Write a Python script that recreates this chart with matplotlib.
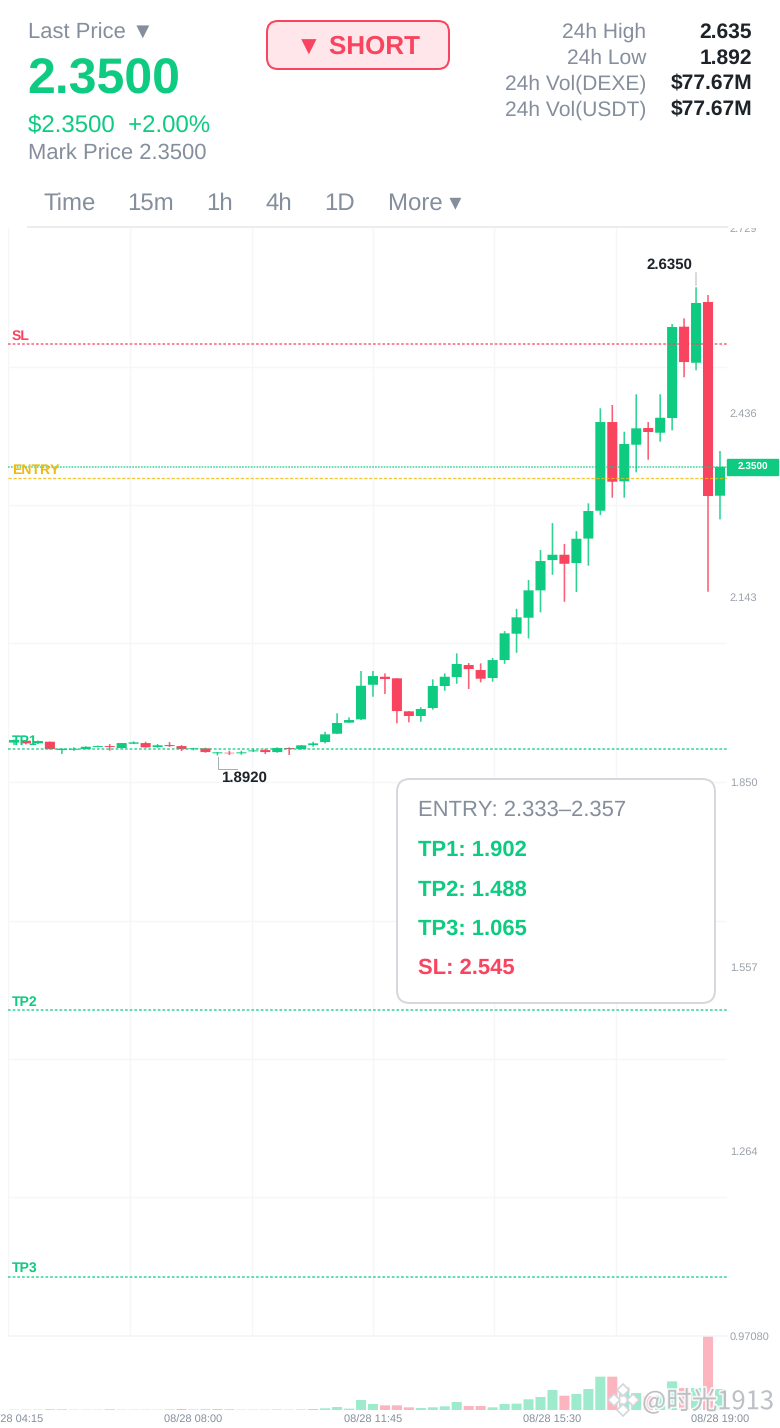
"""Recreates the DEXE/USDT 15m candlestick card with its trade levels."""
import matplotlib
matplotlib.use("Agg")
import matplotlib.patheffects as pe
import matplotlib.pyplot as plt
from matplotlib.patches import FancyBboxPatch, Rectangle

plt.rcParams["font.family"] = ["Liberation Sans", "DejaVu Sans"]
plt.rcParams["text.hinting"] = "no_hinting"
plt.rcParams["text.hinting_factor"] = 1

GREEN = "#0ECB81"
RED = "#F9445F"
GRAY = "#848E9C"
DARK = "#1E2329"
YELLOW = "#F0B90B"
PX = 0.72  # 1 px in points at dpi 100

# 15 minute candles, 08/28 04:15 -> 19:00
opens = [1.9125, 1.9154, 1.9112, 1.9138, 1.9006, 1.9011, 1.9022, 1.9054, 1.9069, 1.9038,
         1.9106, 1.9117, 1.9054, 1.9085, 1.9069, 1.9022, 1.9033, 1.8954, 1.8963, 1.8954,
         1.8985, 1.9006, 1.8974, 1.9038, 1.9022, 1.9085, 1.9133, 1.9265, 1.9441, 1.9493,
         2.0042, 2.0169, 2.0144, 1.9620, 1.9546, 1.9673, 2.0022, 2.0165, 2.0355, 2.0276,
         2.0149, 2.0434, 2.0852, 2.1106, 2.1540, 2.2021, 2.2105, 2.1974, 2.2362, 2.2804,
         2.4211, 2.3270, 2.3851, 2.4116, 2.4041, 2.4275, 2.5724, 2.5152, 2.6116, 2.3042]
closes = [1.9165, 1.9112, 1.9149, 1.9022, 1.9027, 1.9027, 1.9058, 1.9069, 1.9054, 1.9117,
          1.9128, 1.9049, 1.9081, 1.9069, 1.9022, 1.9033, 1.8974, 1.8970, 1.8954, 1.8970,
          1.9001, 1.8974, 1.9038, 1.9022, 1.9081, 1.9112, 1.9255, 1.9435, 1.9482, 2.0026,
          2.0180, 2.0133, 1.9625, 1.9546, 1.9657, 2.0022, 2.0169, 2.0371, 2.0291, 2.0138,
          2.0434, 2.0858, 2.1112, 2.1540, 2.2005, 2.2105, 2.1962, 2.2359, 2.2799, 2.4211,
          2.3264, 2.3862, 2.4111, 2.4053, 2.4279, 2.5719, 2.5163, 2.6100, 2.3037, 2.3500]
highs = [1.9173, 1.9165, 1.9157, 1.9141, 1.9027, 1.9049, 1.9065, 1.9077, 1.9101, 1.9117,
         1.9144, 1.9138, 1.9101, 1.9133, 1.9085, 1.9043, 1.9043, 1.8974, 1.8995, 1.8995,
         1.9027, 1.9027, 1.9049, 1.9049, 1.9085, 1.9138, 1.9296, 1.9590, 1.9525, 2.0260,
         2.0260, 2.0223, 2.0149, 1.9625, 1.9684, 2.0128, 2.0223, 2.0541, 2.0387, 2.0382,
         2.0466, 2.0894, 2.1248, 2.1704, 2.2180, 2.2608, 2.2275, 2.2481, 2.2921, 2.4429,
         2.4481, 2.4057, 2.4651, 2.4211, 2.4651, 2.5766, 2.5857, 2.6350, 2.6227, 2.3751]
lows = [1.9085, 1.9096, 1.9101, 1.9014, 1.8943, 1.8995, 1.9017, 1.9049, 1.8995, 1.9033,
        1.9101, 1.9043, 1.9043, 1.9054, 1.8990, 1.9001, 1.8963, 1.8920, 1.8927, 1.8931,
        1.8974, 1.8943, 1.8963, 1.8927, 1.9011, 1.9058, 1.9112, 1.9260, 1.9435, 1.9482,
        1.9852, 1.9895, 1.9430, 1.9446, 1.9455, 1.9646, 1.9947, 2.0058, 1.9974, 2.0080,
        2.0090, 2.0375, 2.0550, 2.0778, 2.1191, 2.1788, 2.1359, 2.1513, 2.1931, 2.2735,
        2.3010, 2.3010, 2.3413, 2.3613, 2.3899, 2.4079, 2.4921, 2.5032, 2.1518, 2.2667]
volumes = [1, 1, 1, 2, 2, 1, 1, 1, 2, 1, 1, 1, 1, 1.5, 3, 1.5, 2, 3, 2, 1,
           1, 1, 1.5, 1, 1.5, 3, 5, 9, 4, 30, 18, 14, 14, 8, 6, 8, 11, 24, 12, 12,
           8, 18, 19, 32, 39, 60, 43, 48, 63, 100, 100, 68, 51, 42, 44, 86, 66, 66, 222, 63]

time_ticks = [0, 15, 30, 45, 59]
time_labels = ["08/28 04:15", "08/28 08:00", "08/28 11:45", "08/28 15:30", "08/28 19:00"]
price_ticks = [2.729, 2.436, 2.143, 1.850, 1.557, 1.264, 0.9708]
price_labels = ["2.729", "2.436", "2.143", "1.850", "1.557", "1.264", "0.97080"]
grid_prices = [0.9708, 1.1906, 1.4103, 1.6301, 1.8499, 2.0697, 2.2895, 2.5092, 2.729]
grid_times = [-0.5, 9.69, 19.86, 30.03, 40.14, 50.33]

last_price = 2.35
level_names = ["SL", "TP1", "TP2", "TP3"]
level_prices = [2.545, 1.902, 1.488, 1.065]
level_colors = [RED, GREEN, GREEN, GREEN]
entry_low = 2.333

stat_names = ["24h High", "24h Low", "24h Vol(DEXE)", "24h Vol(USDT)"]
stat_values = ["2.635", "1.892", "$77.67M", "$77.67M"]
tab_names = ["Time", "15m", "1h", "4h", "1D", "More ▾"]
tab_x = [44, 128, 207, 266, 325, 388]

fig = plt.figure(figsize=(7.8, 14.28), dpi=100)
W, H = 780, 1428


def px_axes(left, top, right, bottom):
    return fig.add_axes([left / W, (H - bottom) / H, (right - left) / W, (bottom - top) / H])


ax = px_axes(8, 228, 727, 1336)
ax_vol = px_axes(8, 1336, 727, 1410)
xlim = (-0.5014, 59.586)
xs = range(len(opens))
up = [c >= o for o, c in zip(opens, closes)]
colors = [GREEN if u else RED for u in up]

# candles
wicks = ax.vlines(xs, lows, highs, colors=colors, linewidth=1.6 * PX, alpha=0.85, zorder=3)
wicks.set_snap(False)
bodies = ax.bar(xs, [abs(c - o) for o, c in zip(opens, closes)], bottom=[min(o, c) for o, c in zip(opens, closes)],
                width=0.84, color=colors, zorder=4)
for body in bodies:
    body.set_snap(False)

# trade levels
for name, price, color in zip(level_names, level_prices, level_colors):
    ax.axhline(price, color=color, alpha=0.7, linewidth=1.8 * PX, dashes=(1.5, 1.1), zorder=5)
    ax.annotate(name, (0, price), xycoords=("axes fraction", "data"), xytext=(4 * PX, 1.5 * PX),
                textcoords="offset points", color=color, fontsize=10.2, fontweight="bold", va="bottom", zorder=6)
ax.axhline(last_price, color=GREEN, alpha=0.7, linewidth=1.7 * PX, dashes=(1.0, 0.7), zorder=5)
ax.axhline(entry_low, color=YELLOW, alpha=0.8, linewidth=1.3 * PX, dashes=(2.5, 1.3), zorder=5)
ax.annotate("ENTRY", (0, entry_low), xycoords=("axes fraction", "data"), xytext=(4 * PX, 0.5 * PX),
            textcoords="offset points", color=YELLOW, fontsize=9.8, fontweight="bold", va="bottom", zorder=6)

ax.set_xlim(xlim)
ax.set_ylim(price_ticks[-1], price_ticks[0])
ax.set_yticks(price_ticks, price_labels)
ax.yaxis.tick_right()
ax.set_yticks(grid_prices, minor=True)
ax.set_xticks(grid_times, minor=True)
ax.set_xticks([])
ax.tick_params(which="both", length=0)
ax.tick_params(axis="y", labelsize=7.6, labelcolor="#9BA1AB", pad=2)
ax.grid(which="minor", color="#F5F6F7", linewidth=1.3 * PX, zorder=0)
for spine in ax.spines.values():
    spine.set_visible(False)
ax.patch.set_alpha(0)

# volume
vol_bars = ax_vol.bar(xs, volumes, width=0.84, color=colors, alpha=0.4)
for bar in vol_bars:
    bar.set_snap(False)
ax_vol.set_xlim(xlim)
ax_vol.set_ylim(0, max(volumes))
ax_vol.set_yticks([])
ax_vol.set_xticks(time_ticks, time_labels)
ax_vol.tick_params(axis="x", length=0, labelsize=7.8, labelcolor=GRAY, pad=3.5)
for spine in ax_vol.spines.values():
    spine.set_visible(False)
ax_vol.patch.set_alpha(0)

# everything that is page furniture goes on a pixel overlay
ov = fig.add_axes([0, 0, 1, 1], zorder=10)
ov.set_xlim(0, W)
ov.set_ylim(H, 0)
ov.axis("off")
ov.add_patch(Rectangle((0, 0), W, 226.5, color="white", zorder=0))
ov.plot([28, 727], [227, 227], color="#ECEDEF", linewidth=2 * PX)
ov.plot([8, 727], [1336, 1336], color="#F3F4F5", linewidth=1.5 * PX, zorder=0)


def label(x, y, s, size, color=GRAY, weight="normal", ha="left"):
    # y is the middle of the capitals, so rows share one baseline
    return ov.text(x, y + 0.33 * size, s, fontsize=size * PX, color=color, fontweight=weight, ha=ha, va="baseline")


label(28, 31, "Last Price ▼", 22)
label(27, 77, "2.3500", 50, GREEN, "bold")
label(28, 124, "$2.3500  +2.00%", 24, GREEN)
label(28, 153, "Mark Price 2.3500", 22)

ov.add_patch(FancyBboxPatch((267, 21), 182, 48, boxstyle="round,pad=0,rounding_size=11",
                            facecolor="#FEE6EA", edgecolor=RED, linewidth=2 * PX))
label(358, 45, "▼ SHORT", 26, RED, "bold", ha="center")

for i, (name, value) in enumerate(zip(stat_names, stat_values)):
    label(646, 31 + 26 * i, name, 21, ha="right")
    label(752, 31 + 26 * i, value, 21, DARK, "bold", ha="right")

for x, name in zip(tab_x, tab_names):
    label(x - 0.5, 202, name, 24)

# high / low markers
ov.plot([696, 696], [273, 285], color="#C9CDD2", linewidth=1.5 * PX)
label(669, 264, "2.6350", 14.5, DARK, "bold", ha="center")
ov.plot([217.5, 217.5, 237], [757, 769, 769], color="#A9ADB3", linewidth=1 * PX)
label(244.5, 777, "1.8920", 14.5, DARK, "bold", ha="center")

# last price tag
ov.add_patch(Rectangle((727, 459), 51, 16, color=GREEN))
label(752.5, 467, "2.3500", 10, "white", "bold", ha="center")

# levels card
ov.add_patch(FancyBboxPatch((397, 779), 318, 224, boxstyle="round,pad=0,rounding_size=13",
                            facecolor="white", edgecolor="#D5D8DC", linewidth=2 * PX))
label(418, 809, "ENTRY: 2.333–2.357", 22)
label(418, 849, "TP1: 1.902", 22, GREEN, "bold")
label(418, 889, "TP2: 1.488", 22, GREEN, "bold")
label(418, 927, "TP3: 1.065", 22, GREEN, "bold")
label(418, 967, "SL: 2.545", 22, RED, "bold")

# watermark
halo = [pe.withStroke(linewidth=2.5, foreground="white", alpha=0.8)]
ov.text(642, 1402, "@时光1913", fontsize=18.4, color="#BCC0C5", va="center", ha="left",
        family=["Noto Sans CJK SC", "DejaVu Sans"], path_effects=halo)
ov.plot([623, 614, 633, 623, 623], [1400, 1400, 1400, 1390, 1410], linestyle="none", marker="D",
        markersize=6, markerfacecolor="white", markeredgecolor="#D3D6DA", markeredgewidth=1.2)

fig.savefig("out.png", dpi=100)
